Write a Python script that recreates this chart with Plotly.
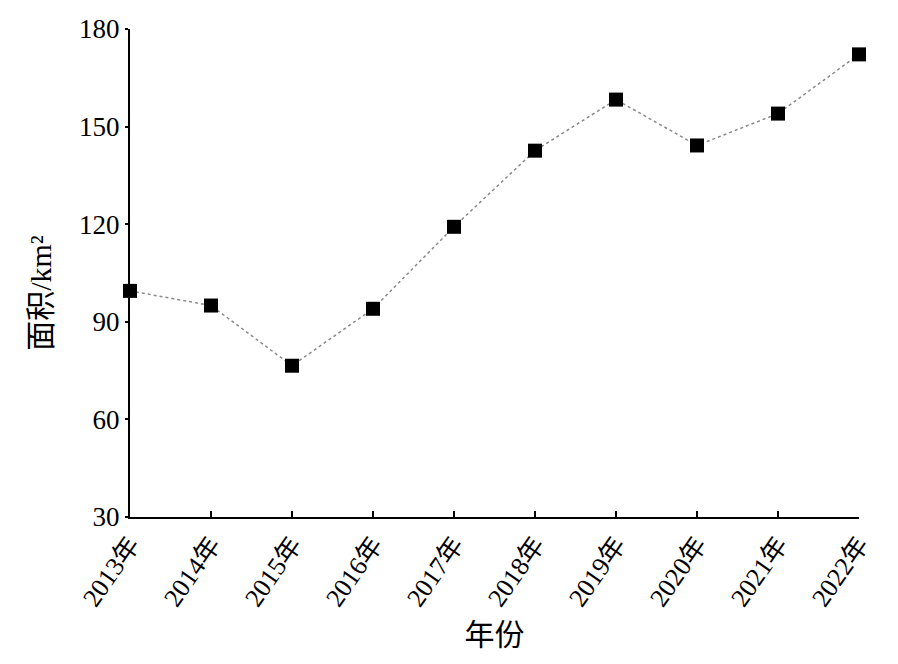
import plotly.graph_objects as go

years = ["2013年", "2014年", "2015年", "2016年", "2017年", "2018年", "2019年", "2020年", "2021年", "2022年"]
area = [99.5, 95.0, 76.5, 94.0, 119.2, 142.6, 158.3, 144.2, 154.0, 172.2]
y_ticks = [30, 60, 90, 120, 150, 180]

FONT = "Liberation Serif, Times New Roman, Noto Sans CJK SC, serif"

fig = go.Figure()
fig.add_trace(go.Scatter(
    x=list(range(len(years))), y=area, mode="lines+markers",
    line=dict(color="#8a8a8a", width=1.5, dash="dot"),
    marker=dict(symbol="square", size=14, color="black"),
    cliponaxis=False, showlegend=False,
))

fig.update_layout(
    width=898, height=664,
    margin=dict(l=122, r=47, t=21, b=155),
    paper_bgcolor="white", plot_bgcolor="white",
    font=dict(family=FONT, size=26, color="black"),
    xaxis=dict(
        range=[0, len(years) - 1], automargin=False,
        tickmode="array", tickvals=list(range(len(years))), ticktext=years,
        tickangle=-55, ticks="inside", ticklen=6, tickwidth=1.5, tickcolor="black",
        showline=True, linecolor="black", linewidth=2, showgrid=False, zeroline=False,
        title=dict(text="年份", font=dict(size=30), standoff=13),
        tickfont=dict(size=26),
    ),
    yaxis=dict(
        range=[30, 180], automargin=False, tickmode="array", tickvals=y_ticks,
        ticks="outside", ticklen=3, tickwidth=1.5, tickcolor="black",
        showline=True, linecolor="black", linewidth=2, showgrid=False, zeroline=False,
        tickfont=dict(size=27),
    ),
    annotations=[dict(
        text="面积/km²", textangle=-90, showarrow=False,
        xref="paper", yref="paper", x=-0.123, y=0.46,
        xanchor="center", yanchor="middle", font=dict(size=30),
    )],
)

fig.write_html("out.html")
